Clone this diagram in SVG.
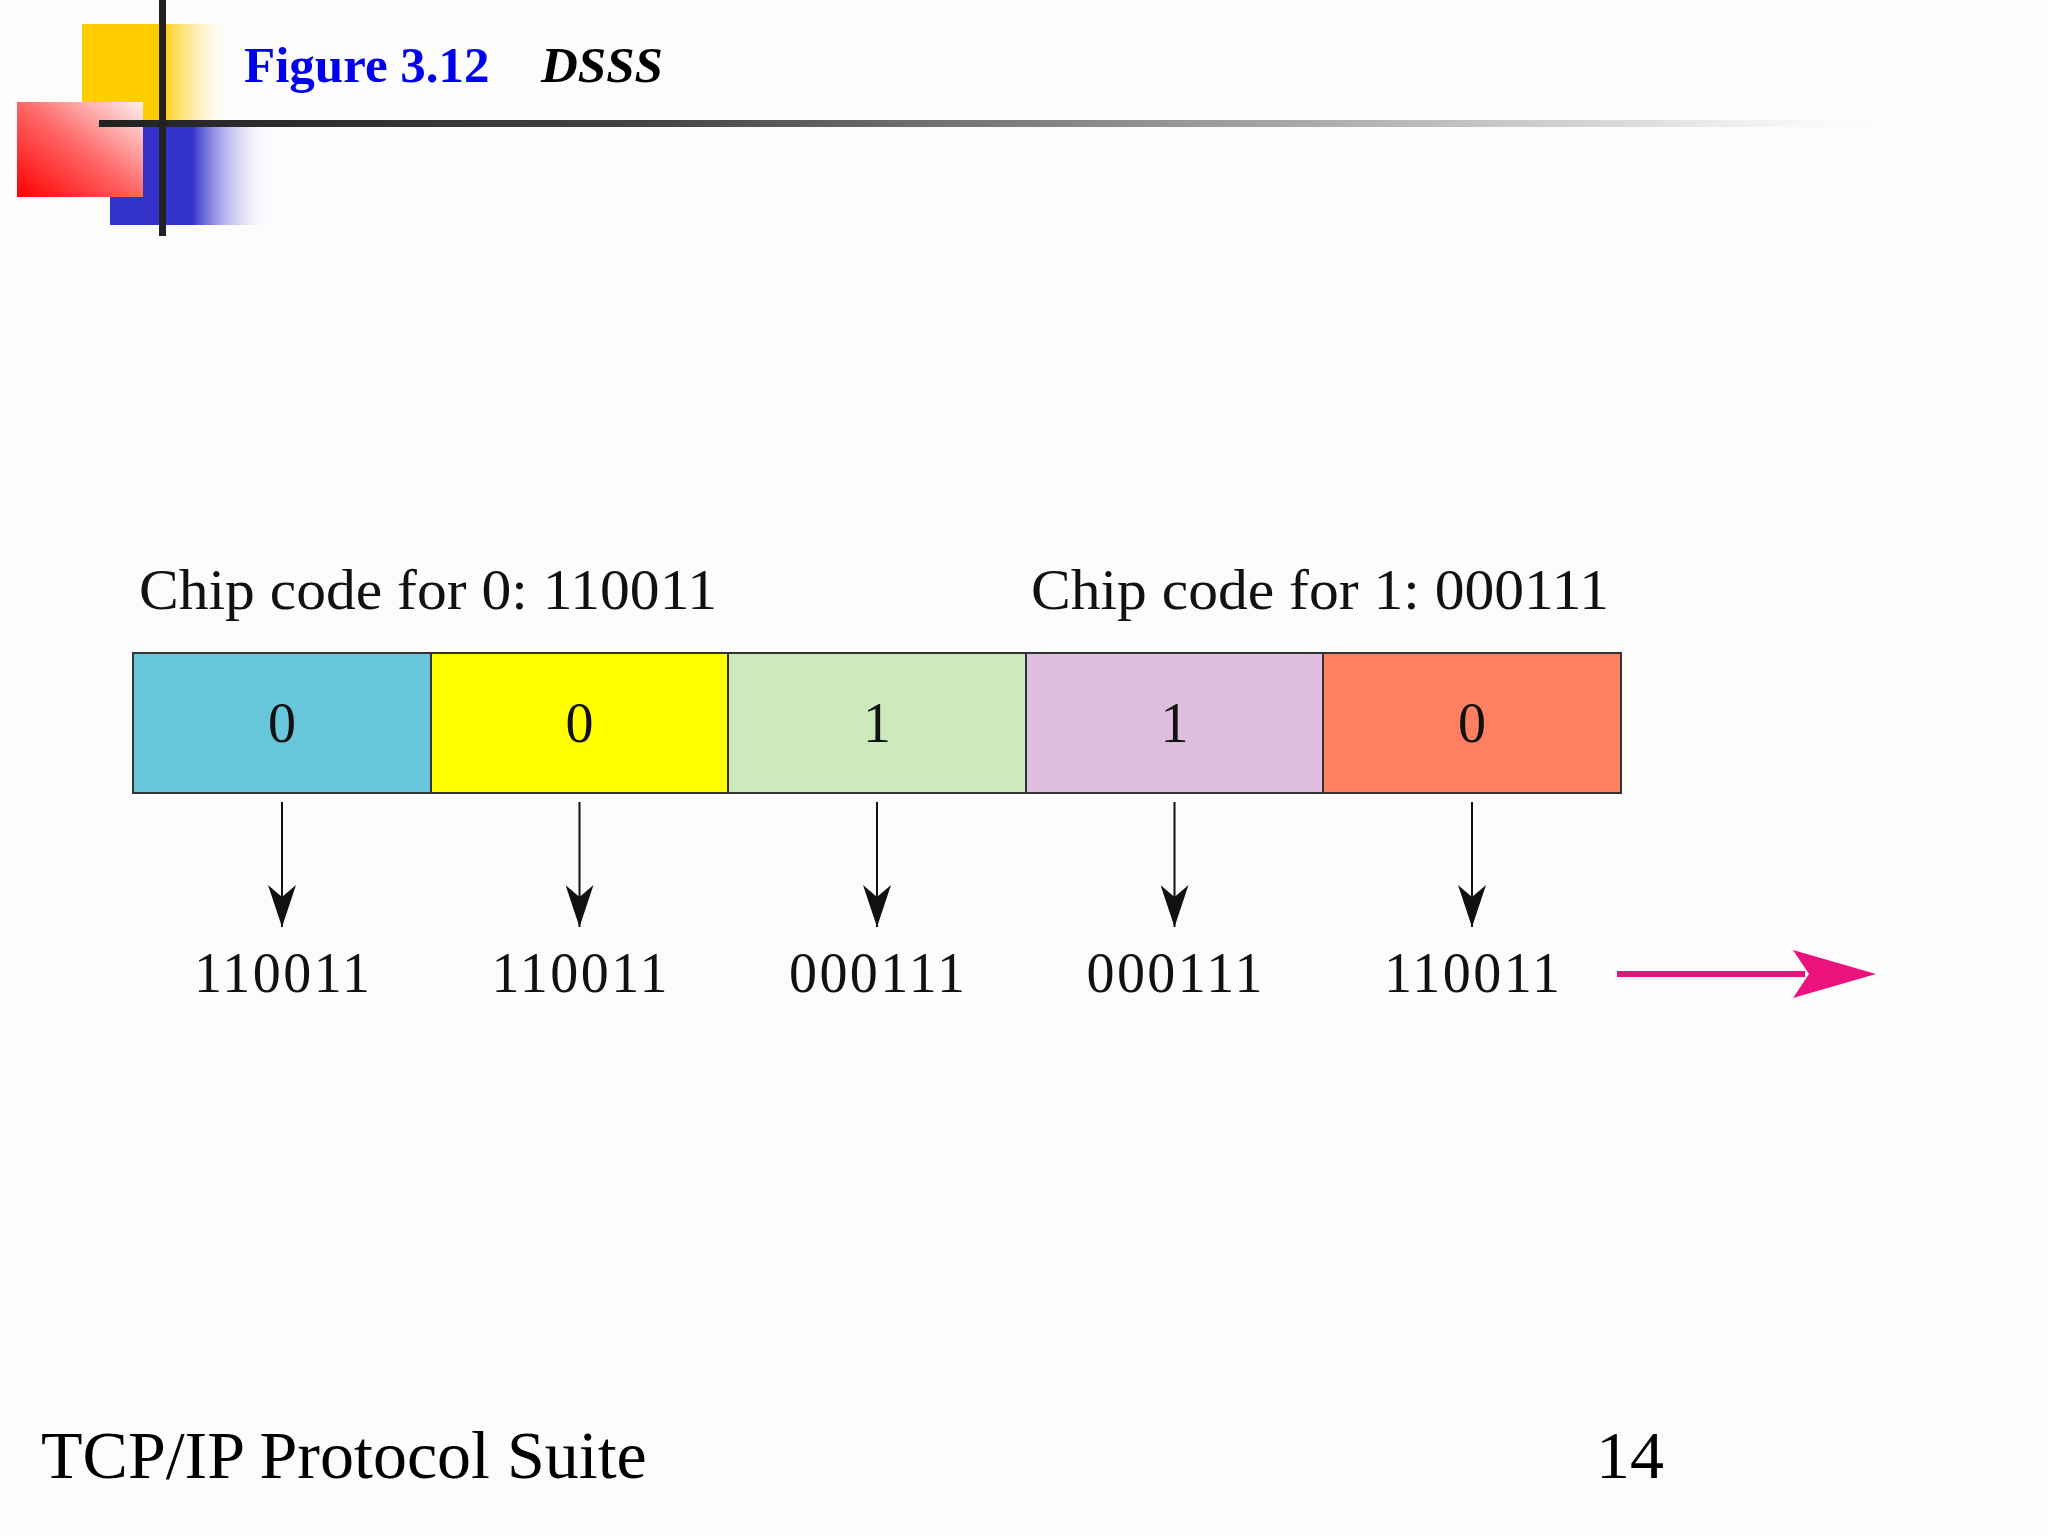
<svg xmlns="http://www.w3.org/2000/svg" width="2048" height="1536" viewBox="0 0 2048 1536">
  <style>
    .serif { font-family: "Liberation Serif", "Times New Roman", serif; }
    .box { stroke: #333333; stroke-width: 2; }
    .lbl { font-size: 57px; fill: #111111; }
    .bit { font-size: 56px; fill: #111111; text-anchor: middle; }
    .conn { stroke: #111111; stroke-width: 2; fill: none; }
  </style>
  <defs>
    <linearGradient id="gYellow" x1="0" y1="0" x2="1" y2="0">
      <stop offset="0" stop-color="#FFCC00"/>
      <stop offset="0.52" stop-color="#FFCC00"/>
      <stop offset="1" stop-color="#FFFFFF" stop-opacity="0"/>
    </linearGradient>
    <linearGradient id="gBlue" x1="0" y1="0" x2="1" y2="0">
      <stop offset="0" stop-color="#3333CC"/>
      <stop offset="0.5" stop-color="#3333CC"/>
      <stop offset="1" stop-color="#FFFFFF" stop-opacity="0"/>
    </linearGradient>
    <linearGradient id="gRed" x1="0" y1="1" x2="1" y2="0">
      <stop offset="0" stop-color="#FF0000"/>
      <stop offset="0.5" stop-color="#FF6666"/>
      <stop offset="1" stop-color="#FFF0F0"/>
    </linearGradient>
    <linearGradient id="gLine" x1="99" y1="0" x2="1920" y2="0" gradientUnits="userSpaceOnUse">
      <stop offset="0" stop-color="#222222"/>
      <stop offset="0.3" stop-color="#444444"/>
      <stop offset="0.6" stop-color="#999999"/>
      <stop offset="0.85" stop-color="#DDDDDD"/>
      <stop offset="1" stop-color="#FFFFFF" stop-opacity="0"/>
    </linearGradient>
    <marker id="arrowDown" viewBox="0 0 42 28" refX="42" refY="14" markerWidth="42" markerHeight="28" markerUnits="userSpaceOnUse" orient="auto">
      <path d="M0,0 L12,14 L0,28 L42,14 Z" fill="#111111"/>
    </marker>
  </defs>

  <rect x="0" y="0" width="2048" height="1536" fill="#FDFCFD"/>

  <!-- decoration -->
  <g id="decoration">
    <rect x="82" y="24" width="154" height="100" fill="url(#gYellow)"/>
    <rect x="110" y="124" width="164" height="101" fill="url(#gBlue)"/>
    <rect x="17" y="102" width="126" height="95" fill="url(#gRed)"/>
    <rect x="99" y="120" width="1821" height="7" fill="url(#gLine)"/>
    <rect x="159" y="0" width="7" height="236" fill="#222222"/>
  </g>

  <g id="title">
    <text x="244" y="82" class="serif" font-size="51" font-weight="bold" fill="#0000EE">Figure 3.12</text>
    <text x="541" y="82" class="serif" font-size="51" font-weight="bold" font-style="italic" fill="#000000">DSSS</text>
  </g>

  <g id="chip-labels">
    <text x="139" y="609" class="serif lbl" textLength="578" lengthAdjust="spacingAndGlyphs">Chip code for 0: 110011</text>
    <text x="1031" y="609" class="serif lbl" textLength="578" lengthAdjust="spacingAndGlyphs">Chip code for 1: 000111</text>
  </g>

  <g id="bit1">
    <rect x="133" y="653" width="298" height="140" fill="#67C6D9" class="box"/>
    <text x="282" y="742" class="serif bit">0</text>
  </g>
  <g id="bit2">
    <rect x="431" y="653" width="297" height="140" fill="#FFFF00" class="box"/>
    <text x="579.5" y="742" class="serif bit">0</text>
  </g>
  <g id="bit3">
    <rect x="728" y="653" width="298" height="140" fill="#CCEABB" class="box"/>
    <text x="877" y="742" class="serif bit">1</text>
  </g>
  <g id="bit4">
    <rect x="1026" y="653" width="297" height="140" fill="#DFBEDD" class="box"/>
    <text x="1174.5" y="742" class="serif bit">1</text>
  </g>
  <g id="bit5">
    <rect x="1323" y="653" width="298" height="140" fill="#FF8060" class="box"/>
    <text x="1472" y="742" class="serif bit">0</text>
  </g>

  <g id="connectors">
    <line x1="282" y1="802" x2="282" y2="927" class="conn" marker-end="url(#arrowDown)"/>
    <line x1="579.5" y1="802" x2="579.5" y2="927" class="conn" marker-end="url(#arrowDown)"/>
    <line x1="877" y1="802" x2="877" y2="927" class="conn" marker-end="url(#arrowDown)"/>
    <line x1="1174.5" y1="802" x2="1174.5" y2="927" class="conn" marker-end="url(#arrowDown)"/>
    <line x1="1472" y1="802" x2="1472" y2="927" class="conn" marker-end="url(#arrowDown)"/>
    <line x1="1617" y1="974" x2="1805" y2="974" stroke="#EC127E" stroke-width="6"/>
    <path d="M1876,974 L1793,950 L1809,974 L1793,998 Z" fill="#EC127E"/>
  </g>

  <g id="codes">
    <text x="282" y="992" class="serif bit" textLength="176" lengthAdjust="spacing">110011</text>
    <text x="579.5" y="992" class="serif bit" textLength="176" lengthAdjust="spacing">110011</text>
    <text x="877" y="992" class="serif bit" textLength="176" lengthAdjust="spacing">000111</text>
    <text x="1174.5" y="992" class="serif bit" textLength="176" lengthAdjust="spacing">000111</text>
    <text x="1472" y="992" class="serif bit" textLength="176" lengthAdjust="spacing">110011</text>
  </g>

  <g id="footer">
    <text x="41" y="1478" class="serif" font-size="68" fill="#000000">TCP/IP Protocol Suite</text>
    <text x="1664" y="1478" class="serif" font-size="68" fill="#000000" text-anchor="end">14</text>
  </g>
</svg>
